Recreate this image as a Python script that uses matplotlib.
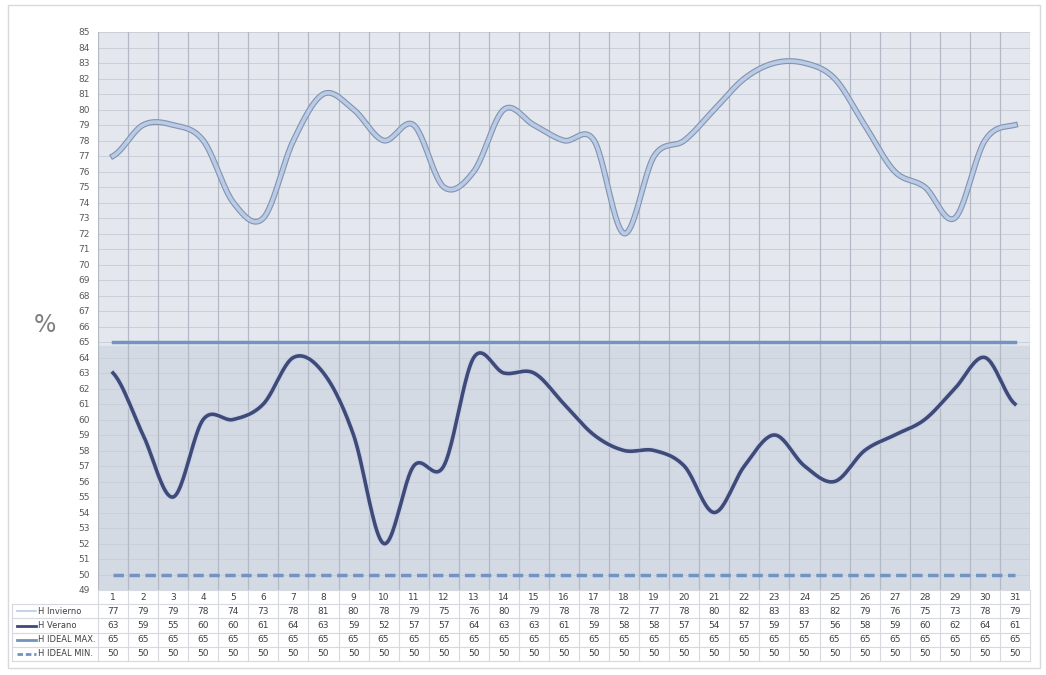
import numpy as np
import matplotlib
matplotlib.use("Agg")
import matplotlib.pyplot as plt
import matplotlib.patheffects as pe

# daily relative humidity (%)
days = list(range(1, 32))
h_invierno = [77, 79, 79, 78, 74, 73, 78, 81, 80, 78, 79, 75, 76, 80, 79, 78,
              78, 72, 77, 78, 80, 82, 83, 83, 82, 79, 76, 75, 73, 78, 79]
h_verano = [63, 59, 55, 60, 60, 61, 64, 63, 59, 52, 57, 57, 64, 63, 63, 61,
            59, 58, 58, 57, 54, 57, 59, 57, 56, 58, 59, 60, 62, 64, 61]
h_ideal_max = [65] * 31
h_ideal_min = [50] * 31
row_labels = ["H Invierno", "H Verano", "H IDEAL MAX.", "H IDEAL MIN."]

W, H = 1046, 675


def smooth(x, y, n=24):
    # Catmull-Rom smoothing like spreadsheet "smoothed lines"
    x = np.asarray(x, float)
    y = np.asarray(y, float)
    px = np.concatenate([[2 * x[0] - x[1]], x, [2 * x[-1] - x[-2]]])
    py = np.concatenate([[y[0]], y, [y[-1]]])
    xs, ys = [], []
    t = np.linspace(0, 1, n, endpoint=False)
    for i in range(1, len(px) - 2):
        p0, p1, p2, p3 = py[i - 1], py[i], py[i + 1], py[i + 2]
        m1 = (p2 - p0) / 2
        m2 = (p3 - p1) / 2
        h00 = 2 * t**3 - 3 * t**2 + 1
        h10 = t**3 - 2 * t**2 + t
        h01 = -2 * t**3 + 3 * t**2
        h11 = t**3 - t**2
        xs.extend(px[i] + t * (px[i + 1] - px[i]))
        ys.extend(h00 * p1 + h10 * m1 + h01 * p2 + h11 * m2)
    xs.append(x[-1])
    ys.append(y[-1])
    return np.array(xs), np.array(ys)


fig = plt.figure(figsize=(W / 100, H / 100), dpi=100)
fig.patch.set_facecolor("white")

# outer frame
frame = plt.Rectangle((8 / W, 1 - 668 / H), 1032 / W, 663 / H, transform=fig.transFigure,
                      fill=False, edgecolor="#d9d9d9", lw=1)
fig.add_artist(frame)

left, right, top, bottom = 98, 1030, 32, 590
ax = fig.add_axes([left / W, 1 - bottom / H, (right - left) / W, (bottom - top) / H])
ax.set_xlim(0.5, 31.5)
ax.set_ylim(49, 85)
ax.set_facecolor("#e4e8ee")

# darker band inside the ideal range
ax.axhspan(49, 64.75, color="#d3dae4", zorder=0)

for yv in range(49, 86):
    ax.axhline(yv, color="#c9d0da", lw=0.7, zorder=1)
for xv in np.arange(0.5, 32, 1):
    ax.axvline(xv, color="#b3bac6", lw=0.9, zorder=1)

for s in ax.spines.values():
    s.set_visible(False)
ax.set_xticks([])
ax.set_yticks(range(49, 86))
ax.tick_params(axis="y", length=0, labelsize=6.5, labelcolor="#595959", pad=6)

# ideal limits
ax.plot(days, h_ideal_max, color="#7393c2", lw=2.5, zorder=3)
ax.plot(days, h_ideal_min, color="#7393c2", lw=2.5, ls=(0, (3, 1.6)), zorder=3)

xi, yi = smooth(days, h_invierno)
ax.plot(xi, yi, color="#b9cbe5", lw=2.6, zorder=4,
        path_effects=[pe.Stroke(linewidth=4.2, foreground="#8292b0"), pe.Normal()])
xv_, yv_ = smooth(days, h_verano)
ax.plot(xv_, yv_, color="#3f4a78", lw=2.6, zorder=4,
        path_effects=[pe.Stroke(linewidth=4.2, foreground="#c9d3e6"), pe.Normal()])

fig.text(45 / W, 1 - 325 / H, "%", fontsize=17, color="#7f7f7f", ha="center", va="center")

# data table under the chart
tab = fig.add_axes([left / W, 1 - 661 / H, (right - left) / W, (661 - 590) / H])
tab.set_xlim(0.5, 31.5)
tab.set_ylim(5, 0)
tab.axis("off")
grid_c = "#d6d9de"
label_x0 = 0.5 - (left - 12) / ((right - left) / 31)
for r in range(6):
    x0 = 0.5 if r == 0 else label_x0
    tab.plot([x0, 31.5], [r, r], color=grid_c, lw=0.8, clip_on=False)
for xv in np.arange(0.5, 32, 1):
    tab.plot([xv, xv], [0, 5], color=grid_c, lw=0.8, clip_on=False)
tab.plot([label_x0, label_x0], [1, 5], color=grid_c, lw=0.8, clip_on=False)

rows = [h_invierno, h_verano, h_ideal_max, h_ideal_min]
for d in days:
    tab.text(d, 0.5, str(d), ha="center", va="center", fontsize=6.5, color="#404040")
for r, vals in enumerate(rows, start=1):
    for d, v in zip(days, vals):
        tab.text(d, r + 0.5, str(v), ha="center", va="center", fontsize=6.5, color="#404040")

# legend keys in the label column
key_styles = [
    dict(color="#b9cbe5", lw=1.2, ls="-"),
    dict(color="#3f4a78", lw=2.0, ls="-"),
    dict(color="#7393c2", lw=2.0, ls="-"),
    dict(color="#7393c2", lw=2.0, ls=(0, (2, 1))),
]
kx0 = label_x0 + 0.15
kx1 = label_x0 + 0.8
for r, (lab, st) in enumerate(zip(row_labels, key_styles), start=1):
    tab.plot([kx0, kx1], [r + 0.5, r + 0.5], clip_on=False, **st)
    tab.text(kx1 + 0.05, r + 0.5, lab, ha="left", va="center", fontsize=6,
             color="#404040", clip_on=False)

fig.savefig("out.png", dpi=100, facecolor="white")
